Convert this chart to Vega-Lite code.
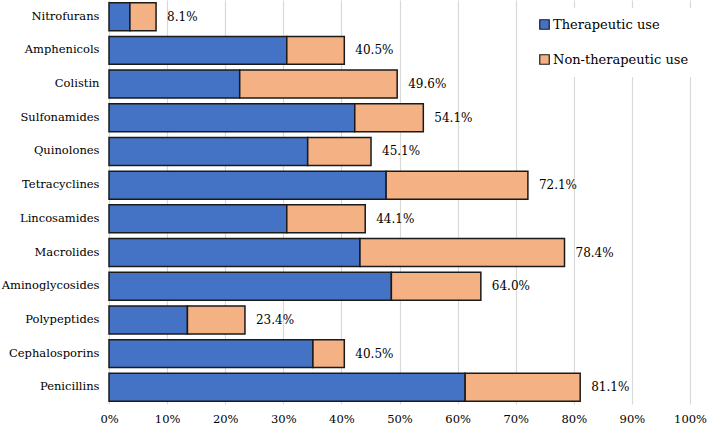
{
  "$schema": "https://vega.github.io/schema/vega-lite/v6.json",
  "width": 581,
  "height": 404,
  "autosize": {"type": "none"},
  "padding": {"left": 109, "top": 0, "right": 18, "bottom": 21},
  "config": {
    "view": {"stroke": null},
    "font": "DejaVu Serif",
    "axis": {"labelFont": "DejaVu Serif", "labelColor": "#000", "labelFontSize": 11.5},
    "legend": {"labelFont": "DejaVu Serif"},
    "text": {"font": "DejaVu Serif"}
  },
  "layer": [
    {
      "data": {"values": [
        {"category": "Nitrofurans", "use": "Therapeutic use", "ord": 1, "value": 0.036},
        {"category": "Nitrofurans", "use": "Non-therapeutic use", "ord": 2, "value": 0.045},
        {"category": "Amphenicols", "use": "Therapeutic use", "ord": 1, "value": 0.306},
        {"category": "Amphenicols", "use": "Non-therapeutic use", "ord": 2, "value": 0.099},
        {"category": "Colistin", "use": "Therapeutic use", "ord": 1, "value": 0.225},
        {"category": "Colistin", "use": "Non-therapeutic use", "ord": 2, "value": 0.271},
        {"category": "Sulfonamides", "use": "Therapeutic use", "ord": 1, "value": 0.423},
        {"category": "Sulfonamides", "use": "Non-therapeutic use", "ord": 2, "value": 0.118},
        {"category": "Quinolones", "use": "Therapeutic use", "ord": 1, "value": 0.342},
        {"category": "Quinolones", "use": "Non-therapeutic use", "ord": 2, "value": 0.109},
        {"category": "Tetracyclines", "use": "Therapeutic use", "ord": 1, "value": 0.477},
        {"category": "Tetracyclines", "use": "Non-therapeutic use", "ord": 2, "value": 0.244},
        {"category": "Lincosamides", "use": "Therapeutic use", "ord": 1, "value": 0.306},
        {"category": "Lincosamides", "use": "Non-therapeutic use", "ord": 2, "value": 0.135},
        {"category": "Macrolides", "use": "Therapeutic use", "ord": 1, "value": 0.432},
        {"category": "Macrolides", "use": "Non-therapeutic use", "ord": 2, "value": 0.352},
        {"category": "Aminoglycosides", "use": "Therapeutic use", "ord": 1, "value": 0.486},
        {"category": "Aminoglycosides", "use": "Non-therapeutic use", "ord": 2, "value": 0.154},
        {"category": "Polypeptides", "use": "Therapeutic use", "ord": 1, "value": 0.135},
        {"category": "Polypeptides", "use": "Non-therapeutic use", "ord": 2, "value": 0.099},
        {"category": "Cephalosporins", "use": "Therapeutic use", "ord": 1, "value": 0.351},
        {"category": "Cephalosporins", "use": "Non-therapeutic use", "ord": 2, "value": 0.054},
        {"category": "Penicillins", "use": "Therapeutic use", "ord": 1, "value": 0.613},
        {"category": "Penicillins", "use": "Non-therapeutic use", "ord": 2, "value": 0.198}
      ]},
      "mark": {"type": "bar", "stroke": "#1a1a1a", "strokeWidth": 1.5},
      "encoding": {
        "y": {
          "field": "category", "type": "nominal",
          "sort": ["Nitrofurans","Amphenicols","Colistin","Sulfonamides","Quinolones","Tetracyclines","Lincosamides","Macrolides","Aminoglycosides","Polypeptides","Cephalosporins","Penicillins"],
          "scale": {"paddingInner": 0.17, "paddingOuter": 0.08},
          "axis": {"title": null, "ticks": false, "domain": false, "labelPadding": 10}
        },
        "x": {
          "field": "value", "type": "quantitative", "stack": "zero",
          "scale": {"domain": [0, 1], "nice": false},
          "axis": {"title": null, "format": ".0%", "values": [0,0.1,0.2,0.3,0.4,0.5,0.6,0.7,0.8,0.9,1], "ticks": false, "domain": false, "gridColor": "#d9d9d9", "gridWidth": 1.2, "labelPadding": 9, "labelFlush": false}
        },
        "order": {"field": "ord"},
        "color": {
          "field": "use", "type": "nominal",
          "scale": {"domain": ["Therapeutic use", "Non-therapeutic use"], "range": ["#4472C4", "#F4B183"]},
          "legend": {
            "title": null, "orient": "none", "legendX": 419, "legendY": 8,
            "fillColor": "white", "padding": 10,
            "symbolType": "square", "symbolSize": 90, "symbolStrokeColor": "#1a1a1a", "symbolStrokeWidth": 1.2,
            "labelFont": "DejaVu Serif", "labelFontSize": 13, "labelColor": "#000", "labelOffset": 2,
            "rowPadding": 20
          }
        }
      }
    },
    {
      "data": {"values": [
        {"category": "Nitrofurans", "total": 0.081},
        {"category": "Amphenicols", "total": 0.405},
        {"category": "Colistin", "total": 0.496},
        {"category": "Sulfonamides", "total": 0.541},
        {"category": "Quinolones", "total": 0.451},
        {"category": "Tetracyclines", "total": 0.721},
        {"category": "Lincosamides", "total": 0.441},
        {"category": "Macrolides", "total": 0.784},
        {"category": "Aminoglycosides", "total": 0.640},
        {"category": "Polypeptides", "total": 0.234},
        {"category": "Cephalosporins", "total": 0.405},
        {"category": "Penicillins", "total": 0.811}
      ]},
      "mark": {"type": "text", "align": "left", "dx": 11, "font": "DejaVu Serif", "fontSize": 12, "color": "#000"},
      "encoding": {
        "y": {"field": "category", "type": "nominal", "sort": ["Nitrofurans","Amphenicols","Colistin","Sulfonamides","Quinolones","Tetracyclines","Lincosamides","Macrolides","Aminoglycosides","Polypeptides","Cephalosporins","Penicillins"]},
        "x": {"field": "total", "type": "quantitative"},
        "text": {"field": "total", "type": "quantitative", "format": ".1%"}
      }
    }
  ]
}
